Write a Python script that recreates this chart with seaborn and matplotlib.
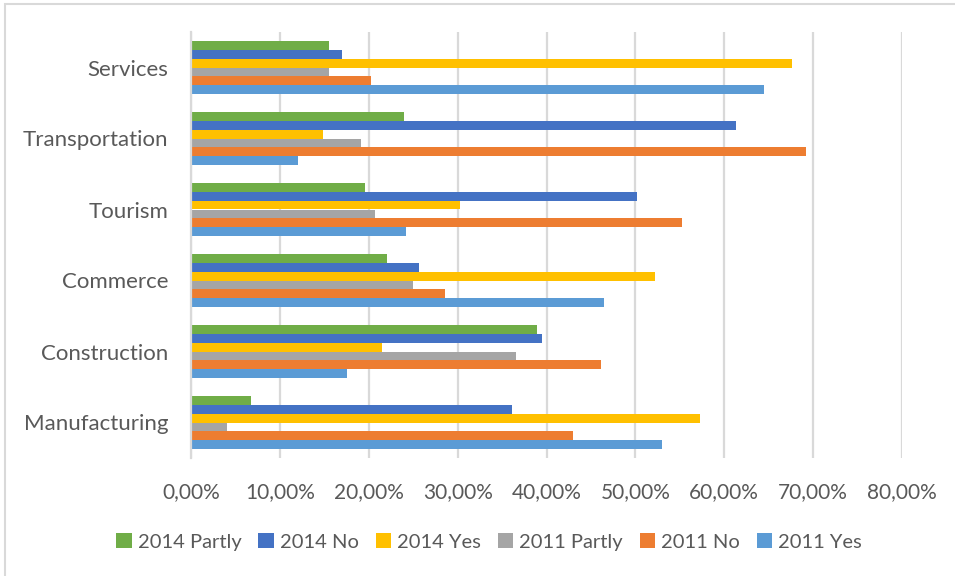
import matplotlib
matplotlib.use("Agg")
import matplotlib.pyplot as plt
import matplotlib.patches as mpatches
from matplotlib.ticker import FuncFormatter
import seaborn as sns
import pandas as pd

categories = ["Services", "Transportation", "Tourism", "Commerce", "Construction", "Manufacturing"]
series_names = ["2014 Partly", "2014 No", "2014 Yes", "2011 Partly", "2011 No", "2011 Yes"]

partly_2014 = [15.5, 24.0, 19.6, 22.1, 38.9, 6.7]
no_2014 = [17.0, 61.3, 50.2, 25.7, 39.5, 36.1]
yes_2014 = [67.6, 14.8, 30.3, 52.2, 21.5, 57.3]
partly_2011 = [15.5, 19.1, 20.7, 25.0, 36.6, 4.0]
no_2011 = [20.2, 69.2, 55.2, 28.6, 46.1, 43.0]
yes_2011 = [64.5, 12.0, 24.2, 46.5, 17.5, 53.0]

palette = ["#70AD47", "#4472C4", "#FFC000", "#A5A5A5", "#ED7D31", "#5B9BD5"]
tick_values = [0, 10, 20, 30, 40, 50, 60, 70, 80]

series_values = [partly_2014, no_2014, yes_2014, partly_2011, no_2011, yes_2011]
rows = []
for name, vals in zip(series_names, series_values):
    for cat, v in zip(categories, vals):
        rows.append({"Sector": cat, "Series": name, "Share": v / 100.0})
df = pd.DataFrame(rows)

sns.set_theme(style="white")
plt.rcParams["font.family"] = ["Lato", "DejaVu Sans"]
text_color = "#595959"

fig = plt.figure(figsize=(9.55, 5.76), dpi=100)
ax = fig.add_axes([191 / 955, 1 - 458 / 576, 711 / 955, 426 / 576])

sns.barplot(
    data=df, x="Share", y="Sector", hue="Series",
    order=categories, hue_order=series_names, palette=palette,
    orient="h", width=0.76, saturation=1, edgecolor="none",
    errorbar=None, legend=True, ax=ax,
)

ax.set_xlim(0, 0.8)
ax.set_xticks([t / 100 for t in tick_values])
ax.xaxis.set_major_formatter(FuncFormatter(lambda v, p: f"{v * 100:.2f}%".replace(".", ",")))
ax.grid(axis="x", color="#D9D9D9", linewidth=1.6)
ax.set_axisbelow(True)
for side in ["top", "right", "bottom"]:
    ax.spines[side].set_visible(False)
ax.spines["left"].set_color("#D9D9D9")
ax.spines["left"].set_linewidth(1.6)
ax.set_xlabel("")
ax.set_ylabel("")
ax.tick_params(axis="x", length=0, pad=17.5, labelsize=15, labelcolor=text_color)
ax.tick_params(axis="y", length=0, pad=16.5, labelsize=16, labelcolor=text_color)

handles, labels = ax.get_legend_handles_labels()
ax.get_legend().remove()
fig.legend(
    handles, labels, loc="center", bbox_to_anchor=(0.512, 1 - 542 / 576),
    ncol=6, frameon=False, fontsize=14.5, labelcolor=text_color,
    handlelength=0.75, handleheight=0.75, handletextpad=0.3, columnspacing=0.85,
)

# light chart-area border
fig.patches.append(mpatches.Rectangle(
    (5 / 955, -0.05), 1.1, 1 - 4 / 576 + 0.05, transform=fig.transFigure,
    fill=False, edgecolor="#D9D9D9", linewidth=1.5,
))

fig.savefig("out.png", dpi=100, facecolor="white")
